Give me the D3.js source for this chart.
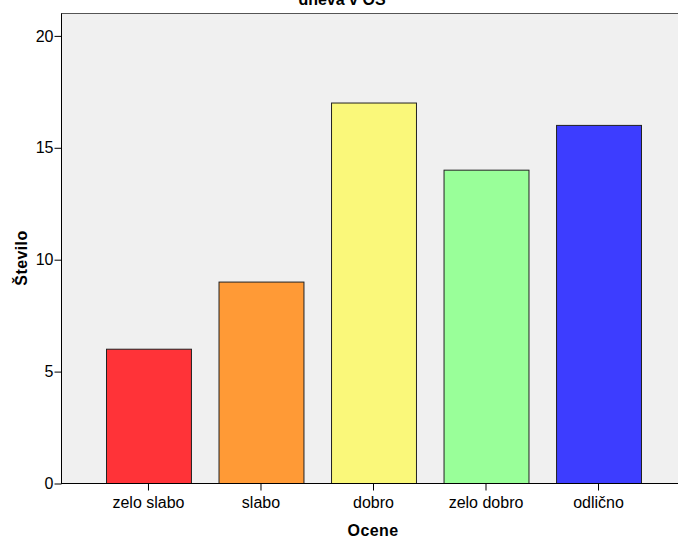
<!DOCTYPE html>
<html>
<head>
<meta charset="utf-8">
<script src="https://cdn.jsdelivr.net/npm/d3@7"></script>
<style>
  body { margin: 0; background: #fff; }
  svg { display: block; font-family: "Liberation Sans", Arial, sans-serif; }
</style>
</head>
<body>
<div id="chart"></div>
<script>
const grades = ["zelo slabo", "slabo", "dobro", "zelo dobro", "odlično"];
const counts = [6, 9, 17, 14, 16];
const barColors = ["#ff3338", "#ff9a36", "#faf87a", "#99ff99", "#3d3dff"];
const yTicks = [0, 5, 10, 15, 20];

const width = 678, height = 538;
const plotLeft = 61, plotTop = 13, plotBottom = 483, plotRight = 686;

const svg = d3.select("#chart").append("svg")
    .attr("width", width)
    .attr("height", height);

const x = d3.scaleBand()
    .domain(grades)
    .range([plotLeft, plotRight])
    .paddingInner(0.245)
    .paddingOuter(0.4);

const y = d3.scaleLinear()
    .domain([0, 21])
    .range([plotBottom, plotTop]);

// plot background
svg.append("rect")
    .attr("x", plotLeft)
    .attr("y", plotTop)
    .attr("width", plotRight - plotLeft)
    .attr("height", plotBottom - plotTop)
    .attr("fill", "#f0f0f0");

// top frame line
svg.append("line")
    .attr("x1", plotLeft).attr("x2", width)
    .attr("y1", plotTop + 0.5).attr("y2", plotTop + 0.5)
    .attr("stroke", "#555");

// bars
svg.append("g")
  .selectAll("rect")
  .data(grades)
  .join("rect")
    .attr("x", d => x(d) + 0.5)
    .attr("y", (d, i) => y(counts[i]) + 0.5)
    .attr("width", x.bandwidth())
    .attr("height", (d, i) => y(0) - y(counts[i]))
    .attr("fill", (d, i) => barColors[i])
    .attr("stroke", "#222")
    .attr("stroke-width", 1);

// y axis
const yAxis = svg.append("g")
    .attr("transform", `translate(${plotLeft + 0.5},0.5)`)
    .call(d3.axisLeft(y).tickValues(yTicks).tickSize(7).tickPadding(1));
yAxis.select(".domain").attr("d", `M0,${plotTop}V${plotBottom}`).attr("stroke", "#000");
yAxis.selectAll("text").attr("font-size", 16).attr("fill", "#000").attr("font-family", null);
yAxis.selectAll("line").attr("stroke", "#000");

// x axis
const xAxis = svg.append("g")
    .attr("transform", `translate(0,${plotBottom + 0.5})`)
    .call(d3.axisBottom(x).tickSize(7).tickPadding(6));
xAxis.select(".domain").attr("d", `M${plotLeft},0H${width}`).attr("stroke", "#000");
xAxis.selectAll("text").attr("font-size", 16).attr("fill", "#000").attr("font-family", null);
xAxis.selectAll("line").attr("stroke", "#000");

// axis titles
svg.append("text")
    .attr("x", 373)
    .attr("y", 536)
    .attr("text-anchor", "middle")
    .attr("font-weight", "bold")
    .attr("font-size", 16)
    .attr("letter-spacing", 0.4)
    .text("Ocene");

svg.append("text")
    .attr("transform", `translate(27,258) rotate(-90)`)
    .attr("text-anchor", "middle")
    .attr("font-weight", "bold")
    .attr("font-size", 16)
    .attr("letter-spacing", 0.4)
    .text("Število");

// chart title, clipped at the top of the page
svg.append("text")
    .attr("x", 342)
    .attr("y", 5)
    .attr("text-anchor", "middle")
    .attr("font-weight", "bold")
    .attr("font-size", 16)
    .text("dneva v OŠ");
</script>
</body>
</html>
